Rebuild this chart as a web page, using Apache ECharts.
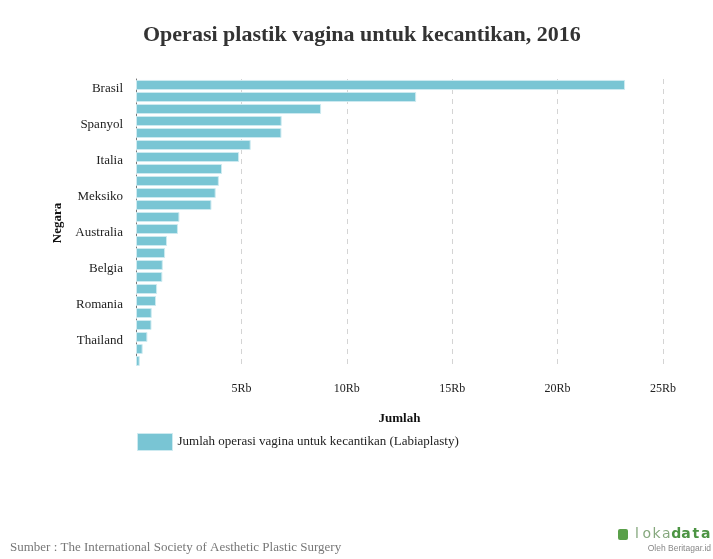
<!DOCTYPE html>
<html>
<head>
<meta charset="utf-8">
<script src="https://cdn.jsdelivr.net/npm/echarts@6/dist/echarts.min.js"></script>
<style>html,body{margin:0;padding:0;background:#fff}#c{width:713px;height:559px}</style>
</head>
<body>
<div id="c"></div>
<script>
var countries = ["Brasil","Amerika Serikat","Rusia","Spanyol","Jerman","Kolombia","Italia","Turki","Argentina","Meksiko","Prancis","Yunani","Australia","Jepang","Inggris","Belgia","Venezuela","Taiwan","Romania","Portugal","Kanada","Thailand","Korea Selatan","Belanda"];
var values = [23200,13290,8780,6910,6900,5440,4890,4080,3930,3780,3580,2060,1990,1470,1380,1270,1250,1000,950,745,735,540,315,175];
var xTicks = [0,5000,10000,15000,20000,25000];
var titleText = "Operasi plastik vagina untuk kecantikan, 2016";
var seriesName = "Jumlah operasi vagina untuk kecantikan (Labiaplasty)";
var sourceText = "Sumber : The International Society of Aesthetic Plastic Surgery";

var serif = "'Liberation Serif','Times New Roman',serif";
var logoLetters = ['l','o','k','a','d','a','t','a'];
var logoGraphics = [];
for (var i = 0; i < logoLetters.length; i++) {
  logoGraphics.push({type:'text',x:637 + i*9.8,y:527,style:{text:logoLetters[i],align:'center',
    font:(i<4?"":"bold ")+"14px 'DejaVu Sans',sans-serif",fill:i<4?'#86a87e':'#4c9443'}});
}
var chart = echarts.init(document.getElementById('c'), null, {renderer:'canvas'});
chart.setOption({
  animation:false,
  backgroundColor:'#fff',
  title:{text:titleText,left:138,top:19,textStyle:{fontFamily:serif,fontSize:22,fontWeight:'bold',color:'#333'}},
  grid:{left:136,right:50,top:79,bottom:192,containLabel:false},
  legend:{data:[{name:seriesName,icon:'rect'}],left:132,top:428,itemWidth:35,itemHeight:17,itemGap:5,
    textStyle:{fontFamily:serif,fontSize:13,color:'#222'},
    itemStyle:{borderColor:'#cdeaf0',borderWidth:1}},
  xAxis:{type:'value',min:xTicks[0],max:xTicks[xTicks.length-1],interval:5000,
    name:'Jumlah',nameLocation:'middle',nameGap:45,
    nameTextStyle:{fontFamily:serif,fontSize:13,fontWeight:'bold',color:'#111'},
    axisLine:{show:false},axisTick:{show:false},
    axisLabel:{margin:16,fontFamily:serif,fontSize:12,color:'#222',
      formatter:function(v){return v===0?'':(v/1000)+'Rb';}},
    splitLine:{show:true,lineStyle:{color:'#d4d4d4',type:[5,5],width:1}}},
  yAxis:{type:'category',data:countries,inverse:true,
    name:'Negara',nameLocation:'middle',nameGap:72,
    nameTextStyle:{fontFamily:serif,fontSize:13,fontWeight:'bold',color:'#111'},
    axisLine:{show:true,lineStyle:{color:'#777',type:[5,3],width:1}},
    axisTick:{show:false},
    axisLabel:{interval:2,margin:13,fontFamily:serif,fontSize:13,color:'#222',
      formatter:function(v){return '{a|' + v + '}';},
      rich:{a:{fontFamily:serif,fontSize:13,color:'#222',padding:[7,0,0,0]}}}},
  series:[{name:seriesName,type:'bar',data:values,barCategoryGap:'16%',
    itemStyle:{color:'#79c5d4',borderColor:'#cdeaf0',borderWidth:1}}],
  graphic:[
    {type:'text',left:10,top:541,style:{text:sourceText,font:"13px "+serif,fill:'#777'}},
    {type:'rect',shape:{x:618,y:529,width:10,height:11,r:2},style:{fill:'#5aa04a'}},
    {type:'text',x:711,y:544,style:{text:'Oleh Beritagar.id',align:'right',font:"8.5px 'Liberation Sans',sans-serif",fill:'#888'}}
  ].concat(logoGraphics)
});
</script>
</body>
</html>
